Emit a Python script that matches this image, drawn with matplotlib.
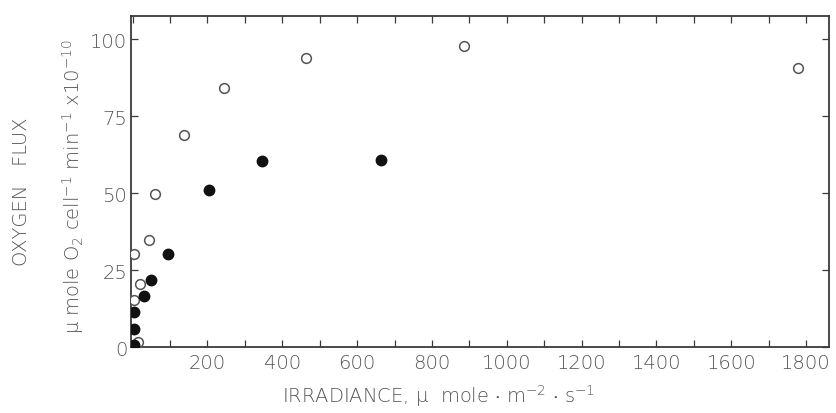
import matplotlib
matplotlib.use("Agg")
import matplotlib.pyplot as plt
from matplotlib.ticker import MultipleLocator, FixedLocator

plt.rcParams["font.family"] = ["DejaVu Sans"]
plt.rcParams["font.weight"] = "light"
plt.rcParams["mathtext.fontset"] = "custom"
plt.rcParams["mathtext.rm"] = "DejaVu Sans:light"
plt.rcParams["mathtext.it"] = "DejaVu Sans:italic:light"
plt.rcParams["mathtext.default"] = "regular"

# Irradiance (µmol m^-2 s^-1) and oxygen flux (µmol O2 cell^-1 min^-1 x10^-10)
open_irradiance = [4, 15, 4, 20, 44, 60, 137, 244, 463, 887, 1777]
open_flux = [15.3, 1.6, 30.2, 20.5, 34.7, 49.7, 68.8, 84.1, 93.8, 97.7, 90.6]

filled_irradiance = [4, 4, 4, 31, 49, 94, 204, 345, 665]
filled_flux = [0.6, 5.8, 11.4, 16.6, 21.8, 30.2, 51.0, 60.4, 60.7]

x_tick_labels = ["200", "400", "600", "800", "1000", "1200", "1400", "1600", "1800"]
y_tick_labels = ["0", "25", "50", "75", "100"]

ink = "#3a3a3a"
text_col = "#555555"
fs = 14

fig = plt.figure(figsize=(8.37, 4.14), dpi=100)
ax = fig.add_axes([0.157, 0.159, 0.833, 0.800])

ax.plot(open_irradiance, open_flux, linestyle="none", marker="o", markersize=7,
        markerfacecolor="white", markeredgecolor="#555555", markeredgewidth=1.1,
        zorder=3)
ax.plot(filled_irradiance, filled_flux, linestyle="none", marker="o", markersize=7.5,
        markerfacecolor="#111111", markeredgecolor="#111111", zorder=4)

ax.set_xlim(-3, 1860)
ax.set_ylim(0, 107.5)

xt = [float(t) for t in x_tick_labels]
ax.xaxis.set_major_locator(FixedLocator(xt))
ax.set_xticklabels(x_tick_labels)
ax.xaxis.set_minor_locator(MultipleLocator(100))
yt = [float(t) for t in y_tick_labels]
ax.yaxis.set_major_locator(FixedLocator(yt))
ax.set_yticklabels(y_tick_labels)

ax.tick_params(axis="both", which="both", direction="in", top=True, right=True,
               length=5, width=0.9, color=ink, labelsize=fs, labelcolor=text_col)
ax.tick_params(axis="x", pad=4)
ax.tick_params(axis="y", pad=3)
for s in ax.spines.values():
    s.set_color(ink)
    s.set_linewidth(1.3)

fig.text(0.026, 0.536, "OXYGEN   FLUX", rotation=90, ha="center", va="center",
         fontsize=fs, color=text_col)
fig.text(0.087, 0.548,
         r"μ mole O$_2$ cell$^{-1}$ min$^{-1}$ x10$^{-10}$",
         rotation=90, ha="center", va="center", fontsize=fs, color=text_col)
fig.text(0.524, 0.026,
         r"IRRADIANCE, μ  mole $\cdot$ m$^{-2}$ $\cdot$ s$^{-1}$",
         ha="center", va="baseline", fontsize=fs, color=text_col)

fig.savefig("out.png", dpi=100, facecolor="white")
